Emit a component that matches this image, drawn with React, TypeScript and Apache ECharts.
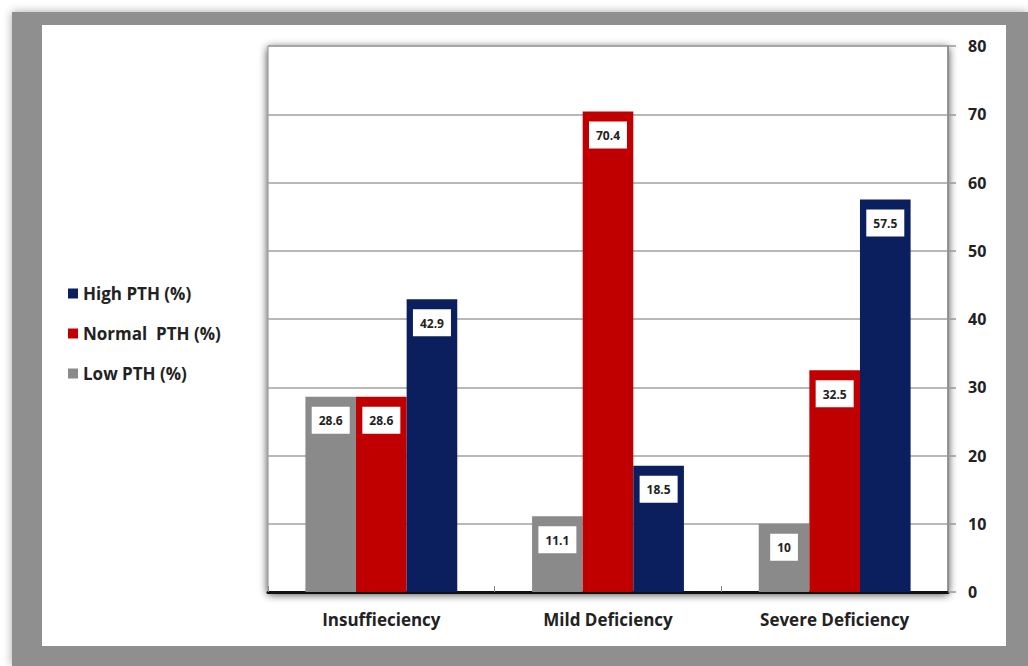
import React, { useEffect, useRef } from "react";
import * as echarts from "echarts";

const categories = ["Insuffieciency", "Mild Deficiency", "Severe Deficiency"];
const lowPTH = [28.6, 11.1, 10];
const normalPTH = [28.6, 70.4, 32.5];
const highPTH = [42.9, 18.5, 57.5];
const seriesNames = ["Low PTH (%)", "Normal PTH (%)", "High PTH (%)"];
const legendOrder = ["High PTH (%)", "Normal PTH (%)", "Low PTH (%)"];
const legendText: Record<string, string> = {
  "High PTH (%)": "High PTH (%)",
  "Normal PTH (%)": "Normal  PTH (%)",
  "Low PTH (%)": "Low PTH (%)",
};
const colors = ["#8a8a8a", "#c00000", "#0b1f5e"];
const FONT = "'Open Sans', Lato, sans-serif";

export default function App() {
  const ref = useRef<HTMLDivElement>(null);
  useEffect(() => {
    if (!ref.current) return;
    const chart = echarts.init(ref.current, undefined, { renderer: "svg" });
    const label = {
      show: true,
      position: "insideTop",
      distance: 10,
      backgroundColor: "#ffffff",
      padding: [8, 7, 7, 7],
      color: "#222",
      fontWeight: "bold",
      fontSize: 12,
      fontFamily: FONT,
    };
    const datasets = [lowPTH, normalPTH, highPTH];
    chart.setOption({
      animation: false,
      backgroundColor: "#ffffff",
      textStyle: { fontFamily: FONT },
      graphic: [
        {
          type: "rect",
          z: -10,
          silent: true,
          shape: { x: 12, y: 12, width: 1016, height: 654 },
          style: { fill: "#8f8f8f", shadowBlur: 10, shadowColor: "rgba(0,0,0,0.35)" },
        },
        {
          type: "rect",
          z: -9,
          silent: true,
          shape: { x: 42, y: 25, width: 964, height: 621 },
          style: { fill: "#ffffff" },
        },
      ],
      legend: {
        orient: "vertical",
        left: 63,
        top: 280,
        itemWidth: 10,
        itemHeight: 10,
        itemGap: 23,
        icon: "rect",
        data: legendOrder,
        formatter: (n: string) => legendText[n] || n,
        textStyle: { fontSize: 17, fontWeight: "bold", color: "#222", fontFamily: FONT },
      },
      grid: {
        left: 268,
        right: 80,
        top: 46,
        bottom: 74,
        show: true,
        backgroundColor: "#ffffff",
        borderColor: "#888",
        borderWidth: 1,
        shadowBlur: 8,
        shadowColor: "rgba(0,0,0,0.75)",
        shadowOffsetX: 0,
        shadowOffsetY: 2,
      },
      xAxis: {
        type: "category",
        data: categories,
        axisLine: { lineStyle: { color: "#111", width: 3 } },
        axisTick: { show: true, inside: true, length: 6, lineStyle: { color: "#888" } },
        axisLabel: { fontSize: 17, fontWeight: "bold", color: "#222", margin: 19, fontFamily: FONT },
      },
      yAxis: {
        type: "value",
        position: "right",
        min: 0,
        max: 80,
        interval: 10,
        axisLine: { show: true, lineStyle: { color: "#888", width: 1.5 } },
        axisTick: { show: true, length: 8, lineStyle: { color: "#999", width: 1.5 } },
        splitLine: { lineStyle: { color: "#a0a0a0", width: 1.5 } },
        axisLabel: { fontSize: 16, fontWeight: "bold", color: "#222", margin: 20, fontFamily: FONT },
      },
      series: datasets.map((d, i) => ({
        name: seriesNames[i],
        type: "bar",
        data: d,
        barGap: "0%",
        barCategoryGap: "33%",
        itemStyle: { color: colors[i] },
        label,
      })),
    });
    return () => chart.dispose();
  }, []);
  return (
    <div
      ref={ref}
      style={{ position: "fixed", left: 0, top: 0, width: 1028, height: 666 }}
    />
  );
}
